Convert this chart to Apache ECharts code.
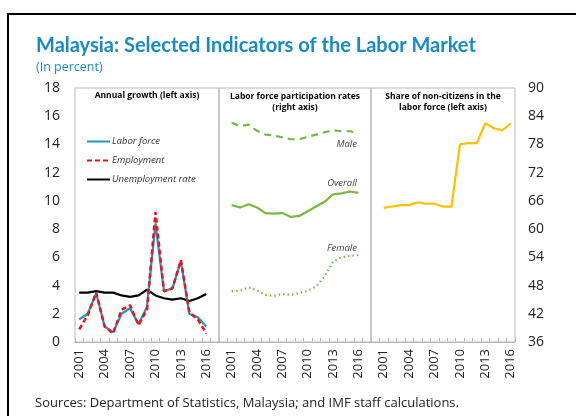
<!DOCTYPE html>
<html>
<head>
<meta charset="utf-8">
<script src="https://cdn.jsdelivr.net/npm/echarts@6/dist/echarts.min.js"></script>
<style>
  html, body { margin: 0; padding: 0; background: #fff; }
  #chart { width: 576px; height: 416px; }
</style>
</head>
<body>
<div id="chart"></div>
<script>
// years on each panel's category axis
var years = ['2001', '2002', '2003', '2004', '2005', '2006', '2007', '2008',
             '2009', '2010', '2011', '2012', '2013', '2014', '2015', '2016'];

// Annual growth panel (left axis, percent)
var laborForce = [1.6, 2.0, 3.45, 1.1, 0.7, 2.0, 2.4, 1.25, 2.5, 8.4, 3.6, 3.8, 5.75, 2.0, 1.75, 1.1];
var employment = [0.9, 1.9, 3.5, 1.1, 0.6, 2.3, 2.6, 1.2, 2.3, 9.2, 3.6, 3.8, 5.8, 2.1, 1.6, 0.6];
var unemployment = [3.5, 3.5, 3.6, 3.5, 3.5, 3.3, 3.2, 3.3, 3.7, 3.3, 3.1, 3.0, 3.1, 2.9, 3.1, 3.4];

// Labor force participation rates (right axis)
var lfprMale = [82.6, 81.9, 82.2, 80.9, 80.1, 79.9, 79.5, 79.1, 79.1, 79.6, 80.1, 80.6, 81.0, 80.8, 80.8, 80.4];
var lfprOverall = [65.1, 64.6, 65.3, 64.6, 63.4, 63.3, 63.4, 62.6, 62.8, 63.8, 64.8, 65.8, 67.4, 67.6, 68.0, 67.7];
var lfprFemale = [46.8, 46.9, 47.6, 47.0, 46.0, 45.8, 46.2, 46.0, 46.4, 46.9, 47.8, 49.9, 53.1, 54.0, 54.3, 54.5];

// Share of non-citizens in the labor force (left axis)
var nonCitizens = [9.5, 9.6, 9.7, 9.7, 9.9, 9.8, 9.8, 9.6, 9.6, 14.0, 14.1, 14.1, 15.5, 15.15, 15.0, 15.5];

// tick labels
var leftTicks = { min: 0, max: 18, interval: 2 };
var rightTicks = { min: 36, max: 90, interval: 6 };

var cats0 = years.concat(['']);
var cats1 = [''].concat(years, ['']);
var cats2 = [''].concat(years);

var grey = '#b7b7b7';
var green = '#77b843';
var blue = '#1f96c9';

function xAxisFor(gridIndex, cats) {
    return {
        type: 'category',
        gridIndex: gridIndex,
        data: cats,
        boundaryGap: true,
        axisLine: { show: true, lineStyle: { color: grey, width: 1 } },
        axisTick: { show: true, inside: true, length: 4, interval: 0, lineStyle: { color: grey } },
        axisLabel: {
            rotate: 90,
            margin: 7,
            fontSize: 13,
            fontFamily: 'Open Sans',
            color: '#222',
            interval: function (idx, val) {
                return val !== '' && (Number(val) - 2001) % 3 === 0;
            }
        },
        splitLine: { show: false }
    };
}

function yAxisFor(gridIndex, ticks, pos, showLabels) {
    return {
        type: 'value',
        gridIndex: gridIndex,
        position: pos,
        min: ticks.min,
        max: ticks.max,
        interval: ticks.interval,
        axisLine: { show: false },
        axisTick: { show: false },
        splitLine: { show: false },
        axisLabel: {
            show: showLabels,
            margin: pos === 'left' ? 15 : 13,
            fontSize: 14,
            fontFamily: 'Open Sans',
            color: '#222'
        }
    };
}

function lineSeries(name, data, xi, yi, color, type, width) {
    return {
        name: name,
        type: 'line',
        xAxisIndex: xi,
        yAxisIndex: yi,
        data: data,
        symbol: 'none',
        smooth: false,
        lineStyle: { color: color, width: width || 2, type: type || 'solid' },
        itemStyle: { color: color },
        z: 3
    };
}

var chart = echarts.init(document.getElementById('chart'));

var panelTitle = 'bold 8.5px "Open Sans"';
var seriesTag = 'italic 9.5px "Open Sans"';

var option = {
    animation: false,
    title: {
        text: 'Malaysia: Selected Indicators of the Labor Market',
        subtext: '(In percent)',
        left: 36,
        top: 36,
        padding: 0,
        itemGap: 5,
        textStyle: { fontFamily: 'Lato', fontWeight: 'bold', fontSize: 20, color: '#1a8bc0' },
        subtextStyle: { fontFamily: 'Open Sans', fontSize: 12.5, color: '#1a8bc0' }
    },
    legend: {
        data: ['Labor force', 'Employment', 'Unemployment rate'],
        orient: 'vertical',
        left: 86,
        top: 135,
        padding: 0,
        itemWidth: 23,
        itemHeight: 12,
        itemGap: 6,
        itemStyle: { opacity: 0 },
        textStyle: { fontFamily: 'Open Sans', fontStyle: 'italic', fontSize: 9.5, color: '#333', padding: [0, 0, 0, -3], lineHeight: 13 }
    },
    grid: [
        { left: 75, top: 88, width: 144, height: 254, show: true, borderColor: grey, borderWidth: 1, backgroundColor: 'transparent' },
        { left: 219, top: 88, width: 152, height: 254, show: true, borderColor: grey, borderWidth: 1, backgroundColor: 'transparent' },
        { left: 371, top: 88, width: 144, height: 254, show: true, borderColor: grey, borderWidth: 1, backgroundColor: 'transparent' }
    ],
    xAxis: [xAxisFor(0, cats0), xAxisFor(1, cats1), xAxisFor(2, cats2)],
    yAxis: [
        yAxisFor(0, leftTicks, 'left', true),
        yAxisFor(1, rightTicks, 'right', false),
        yAxisFor(2, leftTicks, 'left', false),
        yAxisFor(2, rightTicks, 'right', true)
    ],
    series: [
        lineSeries('Unemployment rate', unemployment, 0, 0, '#000', 'solid', 2.2),
        lineSeries('Labor force', laborForce, 0, 0, blue, 'solid', 2.2),
        lineSeries('Employment', employment, 0, 0, '#e3171c', [5, 3], 2.5),
        lineSeries('Male', [null].concat(lfprMale), 1, 1, green, [7, 5], 2.2),
        lineSeries('Overall', [null].concat(lfprOverall), 1, 1, green, 'solid', 2.2),
        lineSeries('Female', [null].concat(lfprFemale), 1, 1, green, [1.5, 3], 2.2),
        lineSeries('Share of non-citizens', [null].concat(nonCitizens), 2, 2, '#ffc000', 'solid', 2.2)
    ],
    graphic: [
        { type: 'rect', shape: { x: 8, y: 14, width: 640, height: 500 }, style: { fill: 'none', stroke: '#000', lineWidth: 2 }, z: -1 },
        { type: 'text', x: 147, y: 96, style: { text: 'Annual growth (left axis)', font: panelTitle, fill: '#000', textAlign: 'center', textVerticalAlign: 'middle' } },
        { type: 'text', x: 295, y: 102, style: { text: 'Labor force participation rates\n(right axis)', font: panelTitle, fill: '#000', textAlign: 'center', textVerticalAlign: 'middle', lineHeight: 11 } },
        { type: 'text', x: 443, y: 102, style: { text: 'Share of non-citizens in the\nlabor force (left axis)', font: panelTitle, fill: '#000', textAlign: 'center', textVerticalAlign: 'middle', lineHeight: 11 } },
        { type: 'text', x: 357, y: 144, style: { text: 'Male', font: seriesTag, fill: '#444', textAlign: 'right', textVerticalAlign: 'middle' } },
        { type: 'text', x: 357, y: 183, style: { text: 'Overall', font: seriesTag, fill: '#444', textAlign: 'right', textVerticalAlign: 'middle' } },
        { type: 'text', x: 357, y: 248, style: { text: 'Female', font: seriesTag, fill: '#444', textAlign: 'right', textVerticalAlign: 'middle' } },
        { type: 'text', x: 35, y: 403, style: { text: 'Sources: Department of Statistics, Malaysia; and IMF staff calculations.', font: '13px "Open Sans"', fill: '#222', textVerticalAlign: 'middle' } }
    ]
};

chart.setOption(option);
</script>
</body>
</html>
